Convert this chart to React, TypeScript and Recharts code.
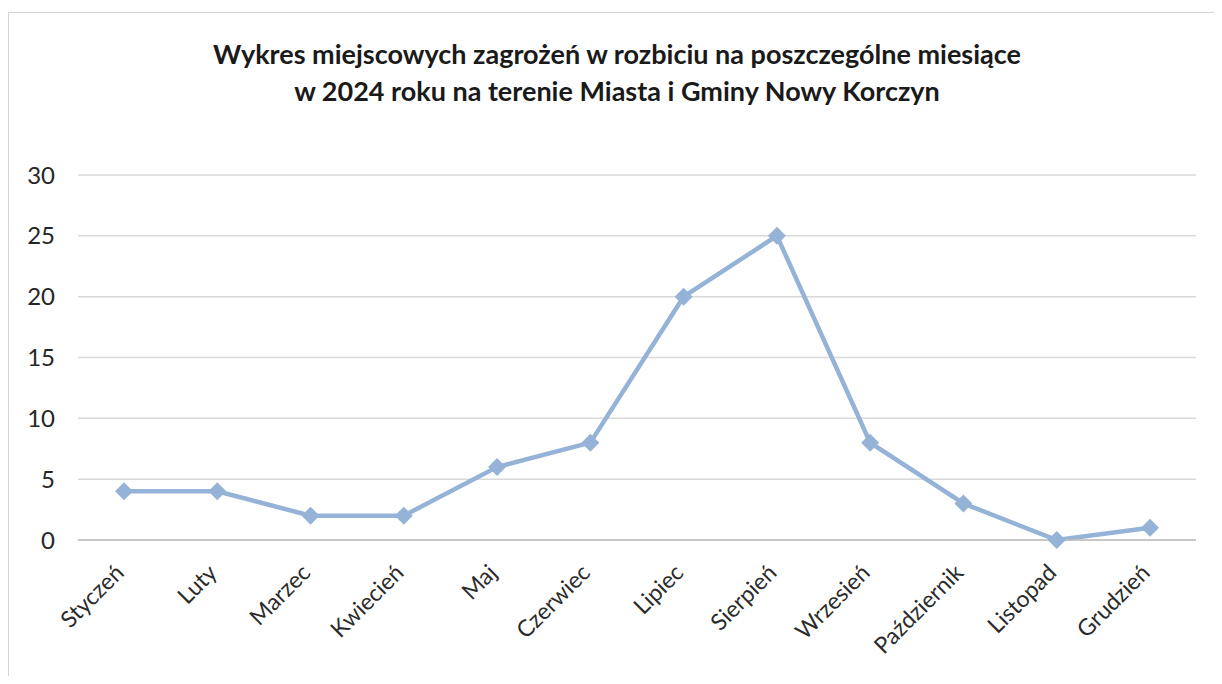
import { CartesianGrid, Line, LineChart, XAxis, YAxis } from "recharts";

const months = [
  "Styczeń",
  "Luty",
  "Marzec",
  "Kwiecień",
  "Maj",
  "Czerwiec",
  "Lipiec",
  "Sierpień",
  "Wrzesień",
  "Październik",
  "Listopad",
  "Grudzień",
];
const incidents = [4, 4, 2, 2, 6, 8, 20, 25, 8, 3, 0, 1];
const yTicks = [0, 5, 10, 15, 20, 25, 30];

const data = months.map((name, i) => ({ name, value: incidents[i] }));

const FONT = "Lato, 'Open Sans', sans-serif";

// rotated month label, Excel style
const MonthTick = (props: any) => {
  const { x, y, payload } = props;
  return (
    <g transform={`translate(${x - 3},${y + 22})`}>
      <text
        textAnchor="end"
        transform="rotate(-45)"
        fontSize={23}
        fontFamily={FONT}
        fill="#2b2b2b"
        dy={6}
      >
        {payload.value}
      </text>
    </g>
  );
};

const Diamond = (props: any) => {
  const { cx, cy } = props;
  const r = 9;
  return (
    <path
      d={`M${cx},${cy - r} L${cx + r},${cy} L${cx},${cy + r} L${cx - r},${cy} Z`}
      fill="#95b3d7"
    />
  );
};

export default function App() {
  return (
    <div
      style={{
        position: "relative",
        width: 1222,
        height: 684,
        margin: -8,
        background: "#fff",
        fontFamily: FONT,
      }}
    >
      <div
        style={{
          position: "absolute",
          left: 0,
          top: 35,
          width: 1234,
          textAlign: "center",
          fontWeight: 700,
          fontSize: 27,
          lineHeight: "37px",
          color: "#1a1a1a",
        }}
      >
        Wykres miejscowych zagrożeń w rozbiciu na poszczególne miesiące
        <br />w 2024 roku na terenie Miasta i Gminy Nowy Korczyn
      </div>
      <LineChart
        width={1222}
        height={684}
        data={data}
        margin={{ top: 175, right: 26, bottom: 114, left: 18 }}
      >
        <CartesianGrid vertical={false} stroke="#d9d9d9" strokeWidth={1.5} />
        <XAxis
          dataKey="name"
          interval={0}
          padding={{ left: 46, right: 46 }}
          axisLine={{ stroke: "#bfbfbf", strokeWidth: 1.5 }}
          tickLine={false}
          tick={<MonthTick />}
        />
        <YAxis
          width={60}
          domain={[0, 30]}
          ticks={yTicks}
          axisLine={false}
          tickLine={false}
          tickMargin={17}
          tick={{ fontSize: 24, fill: "#262626", fontFamily: FONT }}
        />
        <Line
          type="linear"
          dataKey="value"
          stroke="#95b3d7"
          strokeWidth={4.5}
          dot={<Diamond />}
          activeDot={false}
          isAnimationActive={false}
        />
      </LineChart>
      <div
        style={{
          position: "absolute",
          left: 8,
          top: 12,
          width: 1208,
          height: 666,
          border: "1px solid #d4d4d4",
          pointerEvents: "none",
          zIndex: 2,
        }}
      />
    </div>
  );
}
